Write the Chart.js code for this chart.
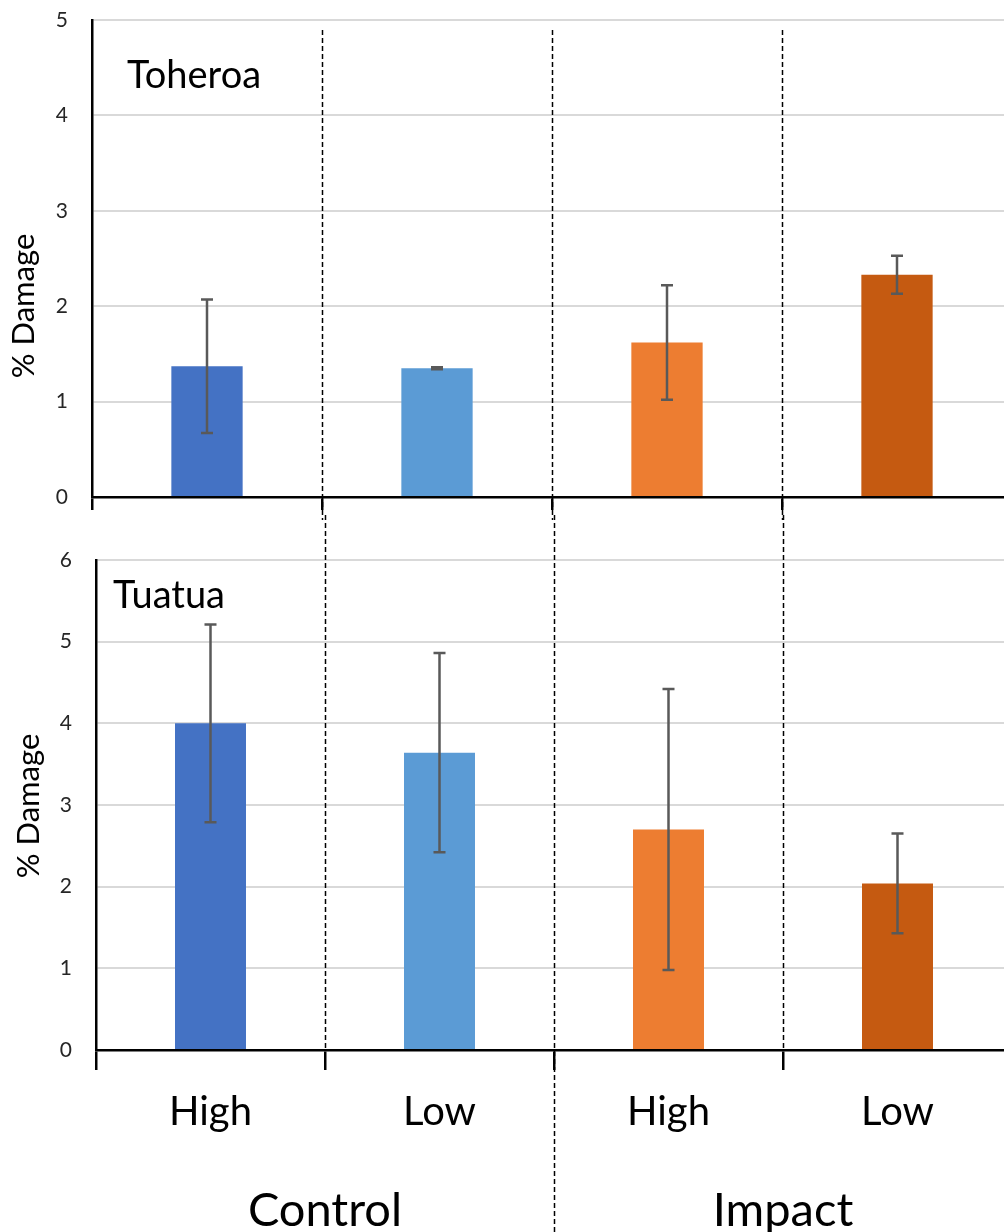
<!DOCTYPE html>
<html>
<head>
<meta charset="utf-8">
<script src="https://cdn.jsdelivr.net/npm/chart.js@4"></script>
<style>
  html, body { margin: 0; padding: 0; background: #fff; overflow: hidden; }
  body { width: 1004px; height: 1232px; position: relative; }
  .panel { position: absolute; left: 0; width: 1030px; }
  #top { top: 0; height: 520px; }
  #bottom { top: 515px; height: 717px; }
</style>
</head>
<body>
<div class="panel" id="top"><canvas id="toheroaChart"></canvas></div>
<div class="panel" id="bottom"><canvas id="tuatuaChart"></canvas></div>
<script>
// ---- data ----
const categories = ['High', 'Low', 'High', 'Low'];
const groups = ['Control', 'Impact'];
const yTitle = '% Damage';

const toheroaMean = [1.37, 1.35, 1.62, 2.33];
const toheroaErr = [0.70, 0.01, 0.60, 0.20];
const toheroaMax = 5;

const tuatuaMean = [4.00, 3.64, 2.70, 2.04];
const tuatuaErr = [1.21, 1.22, 1.72, 0.61];
const tuatuaMax = 6;

const barColors = ['#4472C4', '#5B9BD5', '#ED7D31', '#C55A11'];
const FONT = 'Lato, "Open Sans", sans-serif';

// boundary between category i-1 and i
function boundary(xs, i) {
    return (xs.getPixelForValue(i - 1) + xs.getPixelForValue(i)) / 2;
}

// error bars drawn through the y scale
function errorBars(errs) {
    return {
        id: 'errorBars',
        afterDatasetsDraw(chart) {
            const ctx = chart.ctx;
            const xs = chart.scales.x, ys = chart.scales.y;
            const vals = chart.data.datasets[0].data;
            ctx.save();
            ctx.strokeStyle = '#595959';
            ctx.lineWidth = 2.5;
            vals.forEach(function (v, i) {
                const x = xs.getPixelForValue(i);
                const yt = ys.getPixelForValue(v + errs[i]);
                const yb = ys.getPixelForValue(v - errs[i]);
                ctx.beginPath();
                ctx.moveTo(x, yt); ctx.lineTo(x, yb);
                ctx.moveTo(x - 6, yt); ctx.lineTo(x + 6, yt);
                ctx.moveTo(x - 6, yb); ctx.lineTo(x + 6, yb);
                ctx.stroke();
            });
            ctx.restore();
        }
    };
}

// dashed separators, panel label, y title, group labels
function decorations(o) {
    return {
        id: 'decorations',
        afterDraw(chart) {
            const ctx = chart.ctx;
            const xs = chart.scales.x;
            const area = chart.chartArea;
            ctx.save();
            ctx.strokeStyle = '#000';
            ctx.lineWidth = 1.5;
            ctx.setLineDash([5, 3]);
            for (let i = 1; i < categories.length; i++) {
                const x = Math.round(boundary(xs, i)) + 0.5;
                let y0 = o.isBottom ? 0 : 30;
                let y1 = chart.height;
                if (o.isBottom && i !== 2) y1 = area.bottom;
                ctx.beginPath();
                ctx.moveTo(x, y0); ctx.lineTo(x, y1);
                ctx.stroke();
            }
            ctx.setLineDash([]);
            ctx.fillStyle = '#000';
            ctx.font = '38px ' + FONT;
            ctx.textBaseline = 'alphabetic';
            ctx.textAlign = 'left';
            ctx.fillText(o.label, o.labelX, o.labelY);

            // y axis title
            ctx.save();
            ctx.translate(o.titleX, o.titleY);
            ctx.rotate(-Math.PI / 2);
            ctx.font = '31px ' + FONT;
            ctx.textAlign = 'center';
            ctx.textBaseline = 'middle';
            ctx.fillText(yTitle, 0, 0);
            ctx.restore();

            if (o.isBottom) {
                ctx.font = '47px ' + FONT;
                ctx.textAlign = 'center';
                const mid = boundary(xs, 2);
                const gx = [(area.left + mid) / 2, (mid + area.right) / 2];
                groups.forEach(function (g, k) {
                    ctx.fillText(g, gx[k], chart.height - 6);
                });
            }
            ctx.restore();
        }
    };
}

function makeChart(id, means, errs, yMax, opts) {
    const ctx = document.getElementById(id).getContext('2d');
    return new Chart(ctx, {
        type: 'bar',
        data: {
            labels: categories,
            datasets: [{
                data: means,
                backgroundColor: barColors,
                borderWidth: 0,
                categoryPercentage: 1,
                barPercentage: 0.31
            }]
        },
        options: {
            responsive: true,
            maintainAspectRatio: false,
            animation: false,
            layout: { padding: { top: opts.padTop, right: 18, left: 0, bottom: 0 } },
            plugins: {
                legend: { display: false },
                tooltip: { enabled: false }
            },
            scales: {
                x: {
                    grid: {
                        offset: true,
                        drawOnChartArea: false,
                        drawTicks: true,
                        tickLength: opts.tickLen,
                        color: '#000',
                        lineWidth: 2.5
                    },
                    border: { color: '#000', width: 2.5 },
                    ticks: {
                        display: opts.showLabels,
                        color: '#000',
                        padding: 18,
                        font: { family: FONT, size: 40 }
                    },
                    afterFit: function (s) { s.height = opts.xHeight; }
                },
                y: {
                    min: 0,
                    max: yMax,
                    ticks: {
                        stepSize: 1,
                        color: '#262626',
                        padding: 0,
                        font: { family: FONT, size: 21 }
                    },
                    grid: {
                        drawTicks: true,
                        tickLength: 24,
                        tickColor: 'rgba(0,0,0,0)',
                        lineWidth: 2,
                        color: function (c) { return c.tick && c.tick.value === 0 ? 'rgba(0,0,0,0)' : '#d9d9d9'; }
                    },
                    border: { color: '#000', width: 2.5 },
                    afterFit: function (s) { s.width = opts.yWidth; }
                }
            }
        },
        plugins: [errorBars(errs), decorations(opts)]
    });
}

makeChart('toheroaChart', toheroaMean, toheroaErr, toheroaMax, {
    padTop: 20, tickLen: 13, showLabels: false, xHeight: 23, yWidth: 92,
    label: 'Toheroa', labelX: 127, labelY: 88, titleX: 24, titleY: 306, isBottom: false
});

makeChart('tuatuaChart', tuatuaMean, tuatuaErr, tuatuaMax, {
    padTop: 45, tickLen: 20, showLabels: true, xHeight: 182, yWidth: 96,
    label: 'Tuatua', labelX: 113, labelY: 93, titleX: 29, titleY: 291, isBottom: true
});
</script>
</body>
</html>
